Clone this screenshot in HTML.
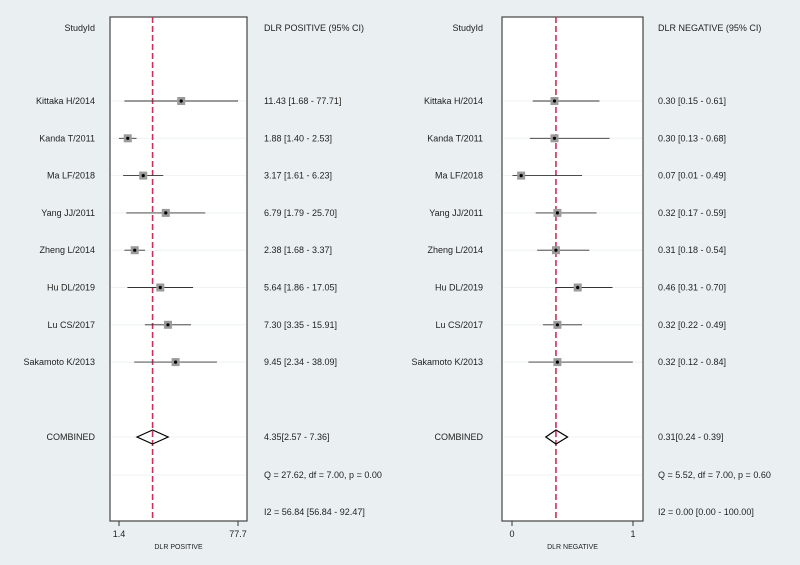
<!DOCTYPE html>
<html><head><meta charset="utf-8"><style>
html,body{margin:0;padding:0;background:#eaf0f1;}
svg{display:block;font-family:"Liberation Sans",Arial,sans-serif;}
text{font-size:9px;fill:#222;}
</style></head><body>
<svg id="chart" width="800" height="565" viewBox="0 0 800 565">
<rect width="800" height="565" fill="#eaf0f1"/>
</svg>
<script>
const studies = ["Kittaka H/2014","Kanda T/2011","Ma LF/2018","Yang JJ/2011","Zheng L/2014","Hu DL/2019","Lu CS/2017","Sakamoto  K/2013"];
const posEst = [11.43,1.88,3.17,6.79,2.38,5.64,7.30,9.45];
const posLo = [1.68,1.40,1.61,1.79,1.68,1.86,3.35,2.34];
const posHi = [77.71,2.53,6.23,25.70,3.37,17.05,15.91,38.09];
const negEst = [0.30,0.30,0.07,0.32,0.31,0.46,0.32,0.32];
const negLo = [0.15,0.13,0.01,0.17,0.18,0.31,0.22,0.12];
const negHi = [0.61,0.68,0.49,0.59,0.54,0.70,0.49,0.84];
const posCombined = [4.35,2.57,7.36];
const negCombined = [0.31,0.24,0.39];
const posTicks = ["1.4","77.7"];
const negTicks = ["0","1"];
const posStats = ["Q = 27.62, df = 7.00, p =  0.00","I2 = 56.84 [56.84 - 92.47]"];
const negStats = ["Q =  5.52, df = 7.00, p =  0.60","I2 = 0.00 [0.00 - 100.00]"];

const NS="http://www.w3.org/2000/svg";
const svg=document.getElementById('chart');
function el(tag,attrs,parent){const e=document.createElementNS(NS,tag);for(const k in attrs)e.setAttribute(k,attrs[k]);(parent||svg).appendChild(e);return e;}
function fmt(v){return v.toFixed(2);}
const rowY=i=>101+i*37.3;
const combY=437, qY=475, iY=512;

function panel(cfg){
  const g=el('g',{});
  
  
  const box=el('rect',{x:cfg.bx0,y:17,width:cfg.bx1-cfg.bx0,height:504,fill:'#fff',stroke:'#444','stroke-width':1.2},g);
  
  
  const ys=studies.map((s,i)=>rowY(i)).concat([combY,qY]);
  ys.forEach(y=>{const l=el('line',{x1:cfg.bx0+1,x2:cfg.bx1-1,y1:y,y2:y,stroke:'#eef2f3','stroke-width':1},g);
    });
  let t=el('text',{x:cfg.nameX,y:31,'text-anchor':'end'},g);t.textContent='StudyId';
  
  t=el('text',{x:cfg.valX,y:31},g);t.textContent=cfg.header;
  
  const rx=cfg.sx(cfg.comb[0]);
  const rl=el('line',{x1:rx,x2:rx,y1:17,y2:521,stroke:'#c8305a','stroke-width':1.6,'stroke-dasharray':'6,3'},g);
  
  studies.forEach((s,i)=>{
    const y=rowY(i);
    let n=el('text',{x:cfg.nameX,y:y+3,'text-anchor':'end'},g);n.textContent=s;
    
    const ci=el('line',{x1:cfg.sx(cfg.lo[i]),x2:cfg.sx(cfg.hi[i]),y1:y,y2:y,stroke:'#333','stroke-width':0.9},g);
    
    const x=cfg.sx(cfg.est[i]);
    const sq=el('rect',{x:x-4,y:y-4,width:8,height:8,fill:'#9a9a9a'},g);
    
    const d=el('circle',{cx:x,cy:y,r:1.6,fill:'#000'},g);
    
    const v=el('text',{x:cfg.valX,y:y+3},g);v.textContent=fmt(cfg.est[i])+' ['+fmt(cfg.lo[i])+' - '+fmt(cfg.hi[i])+']';
    
  });
  let c=el('text',{x:cfg.nameX,y:combY+3,'text-anchor':'end'},g);c.textContent='COMBINED';
  
  const cx=cfg.sx(cfg.comb[0]),cl=cfg.sx(cfg.comb[1]),ch=cfg.sx(cfg.comb[2]);
  const dm=el('polygon',{points:`${cl},${combY} ${cx},${combY-7} ${ch},${combY} ${cx},${combY+7}`,fill:'none',stroke:'#000','stroke-width':1.2},g);
  
  c=el('text',{x:cfg.valX,y:combY+3},g);c.textContent=cfg.combText;
  
  c=el('text',{x:cfg.valX,y:qY+3},g);c.textContent=cfg.stats[0];
  
  c=el('text',{x:cfg.valX,y:iY+3},g);c.textContent=cfg.stats[1];
  
  cfg.tickX.forEach((tx,k)=>{
    const tl=el('line',{x1:tx,x2:tx,y1:521,y2:526,stroke:'#333'},g);
    
    const tt=el('text',{x:tx,y:537,'text-anchor':'middle'},g);tt.textContent=cfg.ticks[k];
    
  });
  const at=el('text',{x:(cfg.tickX[0]+cfg.tickX[1])/2,y:549,'text-anchor':'middle'},g);
  at.style.fontSize='7px';at.textContent=cfg.axisTitle;
  
}
const la=Math.log(1.4),lb=Math.log(77.7);
panel({name:'positive',bx0:110,bx1:247,nameX:95,valX:264,header:'DLR POSITIVE (95% CI)',
  sx:v=>119+(Math.log(v)-la)/(lb-la)*119,est:posEst,lo:posLo,hi:posHi,comb:posCombined,
  combText:posCombined[0].toFixed(2)+'['+fmt(posCombined[1])+' - '+fmt(posCombined[2])+']',
  stats:posStats,ticks:posTicks,tickX:[119,238],axisTitle:'DLR POSITIVE'});
panel({name:'negative',bx0:502,bx1:643,nameX:483,valX:658,header:'DLR NEGATIVE (95% CI)',
  sx:v=>511+v*145,est:negEst,lo:negLo,hi:negHi,comb:negCombined,
  combText:' '+negCombined[0].toFixed(2)+'['+fmt(negCombined[1])+' - '+fmt(negCombined[2])+']',
  stats:negStats,ticks:negTicks,tickX:[512,633],axisTitle:'DLR NEGATIVE'});
</script>
</body></html>
